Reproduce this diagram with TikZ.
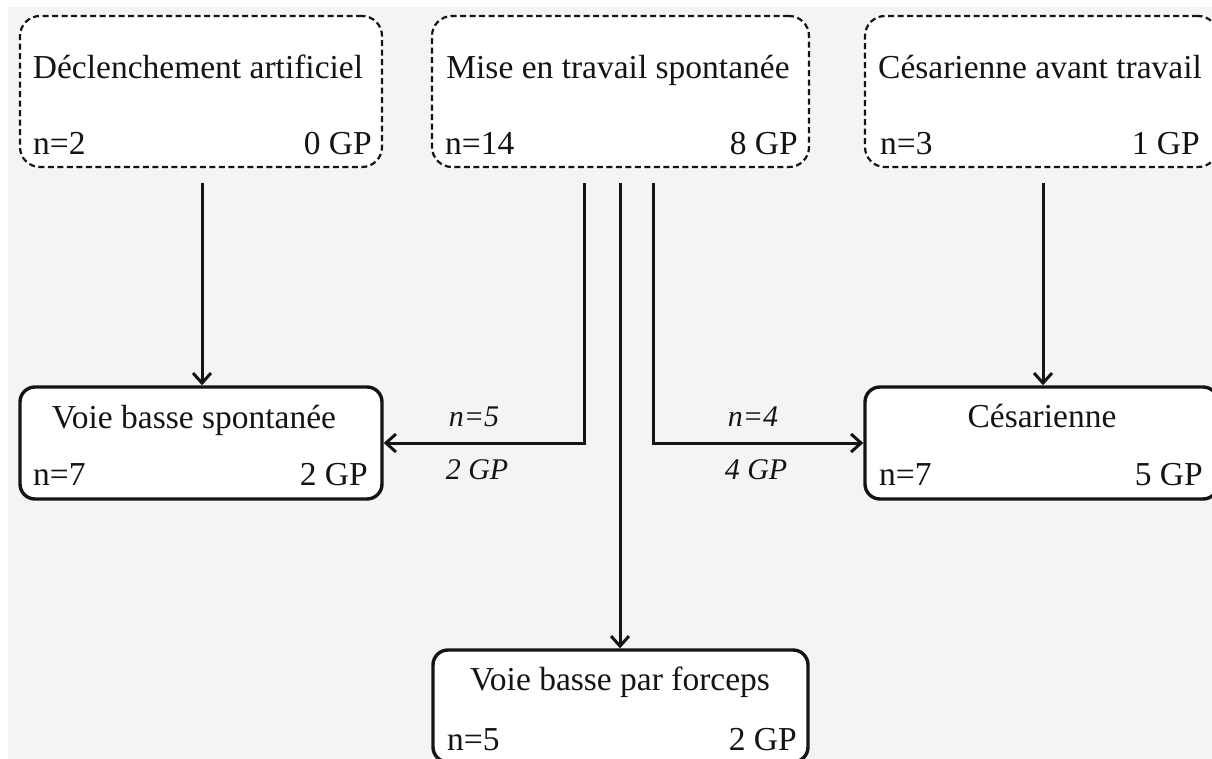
\documentclass[tikz,border=0pt]{standalone}
\usepackage{fontspec}
\setmainfont{Liberation Serif}
\usetikzlibrary{arrows.meta}
\definecolor{bggray}{HTML}{F4F4F4}
\definecolor{ink}{HTML}{141414}
\tikzset{
  dbox/.style={draw=ink, line width=2.2pt, dash pattern=on 6pt off 3.5pt, rounded corners=20pt, fill=white, minimum height=151pt, inner sep=0pt},
  sbox/.style={draw=ink, line width=3.4pt, rounded corners=15pt, fill=white, minimum height=112pt, inner sep=0pt},
  txt/.style={text=ink, font=\fontsize{33.5}{40}\selectfont, inner sep=0pt},
  lbl/.style={text=ink, font=\fontsize{30}{36}\selectfont\itshape, inner sep=0pt, anchor=base},
  arr/.style={draw=ink, line width=3pt, -{Straight Barb[length=10pt,width=18pt,line width=3pt]}},
}
\begin{document}
\begin{tikzpicture}[x=1pt,y=-1pt]
\useasboundingbox (0,0) rectangle (1212,759);
\clip (0,0) rectangle (1212,759);
\fill[white] (0,0) rectangle (1212,759);
\fill[bggray] (8,7) rectangle (1212,759);

% top dashed boxes
\node[dbox, minimum width=362pt] (b1) at (201,91.5) {};
\node[dbox, minimum width=377pt] (b2) at (620.5,91.5) {};
\node[dbox, minimum width=353pt] (b3) at (1041.5,91.5) {};

\node[txt, anchor=base] (b1t) at (198,79) {Déclenchement artificiel};
\node[txt, anchor=base west] (b1n) at (33,155) {n=2};
\node[txt, anchor=base east] (b1g) at (372,155) {0 GP};

\node[txt, anchor=base] (b2t) at (618,79) {Mise en travail spontanée};
\node[txt, anchor=base west] (b2n) at (445,155) {n=14};
\node[txt, anchor=base east] (b2g) at (798,155) {8 GP};

\node[txt, anchor=base] (b3t) at (1040,79) {Césarienne avant travail};
\node[txt, anchor=base west] (b3n) at (880,155) {n=3};
\node[txt, anchor=base east] (b3g) at (1200,155) {1 GP};

% middle solid boxes
\node[sbox, minimum width=362pt] (vbs) at (201,443) {};
\node[txt, anchor=base] (vbst) at (194,428) {Voie basse spontanée};
\node[txt, anchor=base west] (vbsn) at (33,485) {n=7};
\node[txt, anchor=base east] (vbsg) at (368,485) {2 GP};

\node[sbox, minimum width=353pt] (ces) at (1041.5,443) {};
\node[txt, anchor=base] (cest) at (1042,427) {Césarienne};
\node[txt, anchor=base west] (cesn) at (879,485) {n=7};
\node[txt, anchor=base east] (cesg) at (1203,485) {5 GP};

% bottom solid box
\node[sbox, minimum width=375pt] (vbf) at (620.5,706) {};
\node[txt, anchor=base] (vbft) at (620,690) {Voie basse par forceps};
\node[txt, anchor=base west] (vbfn) at (447,750) {n=5};
\node[txt, anchor=base east] (vbfg) at (797,750) {2 GP};

% connector start points
\coordinate (s1) at (202,183);
\coordinate (s2a) at (584,183);
\coordinate (s2b) at (620,183);
\coordinate (s2c) at (653,183);
\coordinate (s3) at (1043,183);

\draw[arr] (s1) -- (s1 |- vbs.north);
\draw[arr] (s3) -- (s3 |- ces.north);
\draw[arr] (s2a) |- (vbs.east);
\draw[arr] (s2c) |- (ces.west);
\draw[arr] (s2b) -- (s2b |- vbf.north);

% connector labels
\node[lbl] (l1n) at (474,426) {n=5};
\node[lbl] (l1g) at (477,479) {2 GP};
\node[lbl] (l2n) at (753,426) {n=4};
\node[lbl] (l2g) at (756,479) {4 GP};
\end{tikzpicture}
\end{document}
